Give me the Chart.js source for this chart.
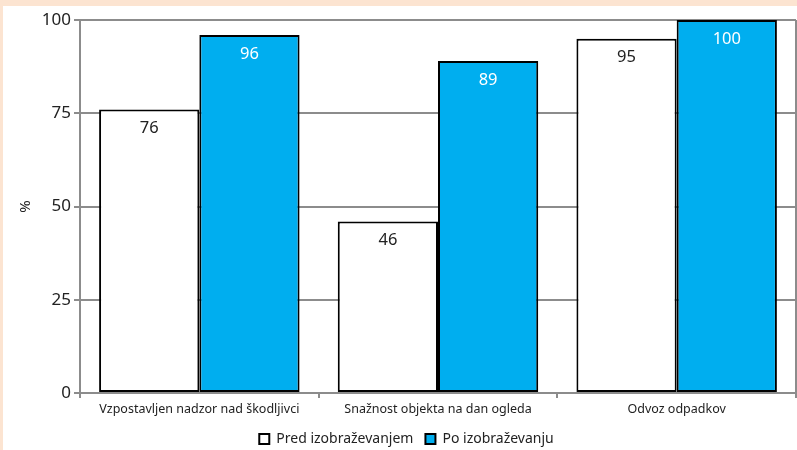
<!DOCTYPE html>
<html><head><meta charset="utf-8">
<script src="https://cdn.jsdelivr.net/npm/chart.js@4"></script>
<style>html,body{margin:0;padding:0;background:#FCE4D1;}#wrap{position:absolute;left:3px;top:6px;width:794px;height:444px;background:#fff;}canvas{position:absolute;left:0;top:0;}</style>
</head><body>
<div id="wrap"></div>
<canvas id="c" width="797" height="450"></canvas>
<script>
const categories = ["Vzpostavljen nadzor nad škodljivci", "Snažnost objekta na dan ogleda", "Odvoz odpadkov"];
const seriesNames = ["Pred izobraževanjem", "Po izobraževanju"];
const predValues = [76, 46, 95];
const poValues = [96, 89, 100];
const yTicks = [0, 25, 50, 75, 100];

const FONT = "'Noto Sans', sans-serif";
const GRID = "#8c8c8c";

const labelPlugin = {
  id: "barLabels",
  afterDatasetsDraw(chart) {
    const ctx = chart.ctx;
    ctx.save();
    ctx.font = "16.5px " + FONT;
    ctx.textAlign = "center";
    ctx.textBaseline = "middle";
    chart.data.datasets.forEach((ds, di) => {
      const meta = chart.getDatasetMeta(di);
      meta.data.forEach((bar, i) => {
        ctx.fillStyle = di === 0 ? "#222" : "#fff";
        ctx.fillText(String(ds.data[i]), bar.x, bar.y + 19);
      });
    });
    ctx.restore();
  },
  beforeDraw(chart) {
    const a = chart.chartArea, ctx = chart.ctx;
    ctx.save();
    ctx.strokeStyle = GRID; ctx.lineWidth = 2;
    ctx.beginPath(); ctx.moveTo(a.right, a.top); ctx.lineTo(a.right, a.bottom); ctx.stroke();
    ctx.restore();
  }
};

new Chart(document.getElementById("c"), {
  type: "bar",
  data: {
    labels: categories,
    datasets: [
      { label: seriesNames[0], data: predValues, backgroundColor: "#ffffff", borderColor: "#000", borderWidth: 2, borderSkipped: false },
      { label: seriesNames[1], data: poValues, backgroundColor: "#00AEEF", borderColor: "#000", borderWidth: 2, borderSkipped: false }
    ]
  },
  options: {
    responsive: false,
    animation: false,
    layout: { padding: { left: 17, right: 1, top: 20, bottom: -6 } },
    datasets: { bar: { categoryPercentage: 0.84, barPercentage: 1.0 } },
    scales: {
      x: {
        grid: { display: true, offset: true, drawOnChartArea: false, color: GRID, lineWidth: 2, tickLength: 5 },
        border: { display: true, color: GRID, width: 2 },
        ticks: { color: "#222", font: { family: FONT, size: 12.5 }, padding: 4, maxRotation: 0 },
        afterFit(s) { s.height = 27; }
      },
      y: {
        min: 0, max: 100,
        afterBuildTicks(s) { s.ticks = yTicks.map(v => ({ value: v })); },
        grid: { color: GRID, lineWidth: 2, tickLength: 6 },
        border: { display: true, color: GRID, width: 2 },
        ticks: { color: "#222", font: { family: FONT, size: 17 }, padding: 3 },
        title: { display: true, text: "%", color: "#222", font: { family: FONT, size: 15 }, padding: 0 },
        afterFit(s) { s.width = 63; }
      }
    },
    plugins: {
      legend: {
        position: "bottom",
        labels: { color: "#222", font: { family: FONT, size: 14 }, boxWidth: 10, boxHeight: 10, padding: 12, useBorderRadius: false },
      },
      tooltip: { enabled: false }
    }
  },
  plugins: [labelPlugin]
});
</script>
</body></html>
